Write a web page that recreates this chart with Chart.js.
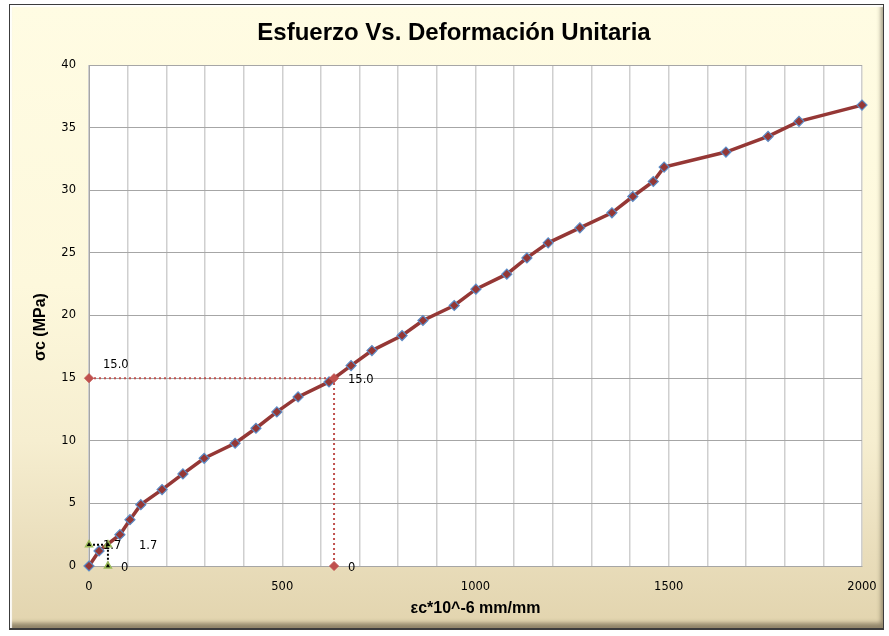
<!DOCTYPE html>
<html>
<head>
<meta charset="utf-8">
<title>Esfuerzo Vs. Deformación Unitaria</title>
<script src="https://cdn.jsdelivr.net/npm/chart.js@4.4.1/dist/chart.umd.min.js"></script>
<style>
  html, body { margin: 0; padding: 0; background: #ffffff; }
  #wrap { position: relative; width: 889px; height: 636px; }
  #frame {
    position: absolute; left: 9px; top: 4px; width: 873px; height: 623px;
    border: 1px solid #3c3c3c;
    border-bottom: 2px solid #3c3c3c;
    background: linear-gradient(to bottom, #fffce3 0%, #fdf8dc 45%, #f6eed0 70%, #e9ddbb 88%, #e2d4ae 100%);
    box-shadow: inset 2px 2px 1px rgba(255,255,255,0.9), inset -2px -5px 4px rgba(90,80,60,0.6);
  }
  #chart { position: absolute; left: 0; top: 0; }
</style>
</head>
<body>
<div id="wrap">
  <div id="frame"></div>
  <canvas id="chart" width="889" height="636"></canvas>
</div>
<script>
// measured curve: unit strain (x10^-6) vs stress (MPa)
const strain = [0, 26, 80, 106, 134, 189, 243, 298, 378, 432, 486, 541, 621, 678, 732, 810, 864,
  945, 1001, 1081, 1133, 1188, 1270, 1353, 1407, 1460, 1488, 1648, 1757, 1837, 2000];
const stress = [0, 1.2, 2.5, 3.7, 4.9, 6.1, 7.35, 8.6, 9.8, 11.0, 12.3, 13.5, 14.7, 16.0, 17.2, 18.4, 19.6,
  20.8, 22.1, 23.3, 24.6, 25.8, 27.0, 28.2, 29.5, 30.7, 31.85, 33.05, 34.3, 35.5, 36.8];

// guide at 15 MPa
const guide15X = [0, 634, 634];
const guide15Y = [15.0, 15.0, 0];

// guide at 1.7 MPa
const guideLowX = [0, 49, 49];
const guideLowY = [1.7, 1.7, 0];

const xTicks = [0, 500, 1000, 1500, 2000];

const toPoints = (xs, ys) => xs.map((x, i) => ({ x: x, y: ys[i] }));

const tickFont = { family: "DejaVu Sans", size: 11.5 };

// label placement for the guide points (left edge offset, vertical offset)
const labelOffsets = {
  0: [[14, -13], [14, 2], [14, 2]],
  1: [[14, 1], [31, 1], [13, 2]]
};

const plotBackground = {
  id: "plotBackground",
  beforeDraw(chart) {
    const a = chart.chartArea;
    const ctx = chart.ctx;
    ctx.save();
    ctx.fillStyle = "#ffffff";
    ctx.fillRect(a.left, a.top, a.right - a.left, a.bottom - a.top);
    ctx.restore();
  }
};

const guideLabels = {
  id: "guideLabels",
  afterDatasetsDraw(chart) {
    const ctx = chart.ctx;
    ctx.save();
    ctx.font = "11.5px 'DejaVu Sans'";
    ctx.fillStyle = "#000";
    ctx.textAlign = "left";
    ctx.textBaseline = "middle";
    Object.keys(labelOffsets).forEach(di => {
      const meta = chart.getDatasetMeta(+di);
      const ds = chart.data.datasets[+di];
      meta.data.forEach((pt, i) => {
        const v = ds.data[i].y;
        const txt = v === 0 ? "0" : v.toFixed(1);
        const off = labelOffsets[di][i];
        ctx.fillText(txt, pt.x + off[0], pt.y + off[1]);
      });
    });
    ctx.restore();
  }
};

const titles = {
  id: "titles",
  afterDraw(chart) {
    const ctx = chart.ctx;
    const area = chart.chartArea;
    ctx.save();
    ctx.fillStyle = "#000";
    ctx.textAlign = "center";
    ctx.textBaseline = "middle";
    ctx.font = "bold 24px 'Liberation Sans Narrow', 'Liberation Sans', sans-serif";
    ctx.fillText("Esfuerzo Vs. Deformación Unitaria", 454, 33, 397);
    ctx.font = "bold 16px 'Liberation Sans Narrow', 'Liberation Sans', sans-serif";
    ctx.fillText("εc*10^-6 mm/mm", (area.left + area.right) / 2, 609, 146);
    ctx.translate(41, 327);
    ctx.rotate(-Math.PI / 2);
    ctx.fillText("σc (MPa)", 0, 0, 76);
    ctx.restore();
  }
};

new Chart(document.getElementById("chart"), {
  type: "line",
  data: {
    datasets: [
      {
        data: toPoints(guide15X, guide15Y),
        order: 0,
        clip: false,
        borderColor: "#c0504d",
        borderWidth: 2,
        borderDash: [2, 3],
        pointStyle: "rectRot",
        pointRadius: 4.5,
        pointBackgroundColor: "#c0504d",
        pointBorderColor: "#c0504d",
        pointBorderWidth: 1
      },
      {
        data: toPoints(guideLowX, guideLowY),
        order: 0,
        clip: false,
        borderColor: "#000000",
        borderWidth: 2,
        borderDash: [2, 2],
        pointStyle: "triangle",
        pointRadius: 4,
        pointBackgroundColor: "#000000",
        pointBorderColor: "#9bbb59",
        pointBorderWidth: 1.5
      },
      {
        data: toPoints(strain, stress),
        order: 1,
        clip: false,
        borderColor: "#953735",
        borderWidth: 3.5,
        pointStyle: "rectRot",
        pointRadius: 5,
        pointBackgroundColor: "#953735",
        pointBorderColor: "#5b8bc6",
        pointBorderWidth: 1.2
      }
    ]
  },
  options: {
    responsive: false,
    animation: false,
    devicePixelRatio: 1,
    layout: { padding: { left: 0, top: 65, right: 27, bottom: 0 } },
    plugins: { legend: { display: false }, tooltip: { enabled: false }, title: { display: false } },
    scales: {
      x: {
        type: "linear",
        min: 0,
        max: 2000,
        afterBuildTicks(scale) {
          const t = [];
          for (let v = 0; v <= 2000; v += 100) t.push({ value: v });
          scale.ticks = t;
        },
        ticks: {
          font: tickFont,
          color: "#000",
          padding: 14,
          autoSkip: false,
          maxRotation: 0,
          callback: v => (xTicks.includes(v) ? String(v) : "")
        },
        grid: { color: "#cfcfcf", lineWidth: 1.5, drawTicks: false },
        border: { display: true, color: "#a6a6a6", width: 1 },
        afterFit(scale) {
          scale.height = 70;
          scale.paddingLeft = 0;
          scale.paddingRight = 0;
        }
      },
      y: {
        type: "linear",
        min: 0,
        max: 40,
        ticks: { stepSize: 5, font: tickFont, color: "#000", padding: 13 },
        grid: { color: "#a6a6a6", lineWidth: 1, drawTicks: false },
        border: { display: true, color: "#a6a6a6", width: 1 },
        afterFit(scale) {
          scale.width = 89;
          scale.paddingTop = 0;
          scale.paddingBottom = 0;
        }
      }
    }
  },
  plugins: [plotBackground, guideLabels, titles]
});
</script>
</body>
</html>
